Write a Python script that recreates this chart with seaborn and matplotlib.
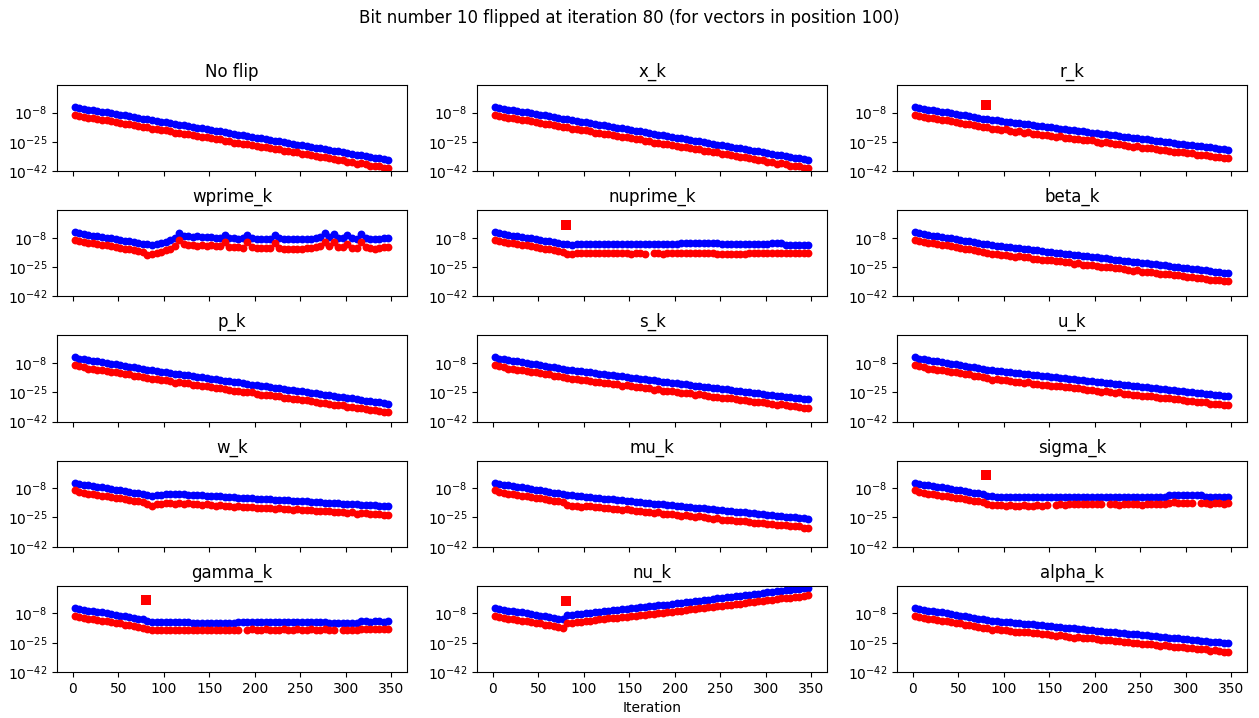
import numpy as np
import matplotlib
matplotlib.use("Agg")
import matplotlib.pyplot as plt
from matplotlib.ticker import NullLocator
import seaborn as sns

# ---------------- data (log10 of the plotted values) ----------------
ITERATIONS = list(range(2, 351, 5))          # 2, 7, ..., 347
FLIP_ITERATION = 80
SUPTITLE = "Bit number 10 flipped at iteration 80 (for vectors in position 100)"
PANEL_NAMES = ["No flip", "x_k", "r_k",
               "wprime_k", "nuprime_k", "beta_k",
               "p_k", "s_k", "u_k",
               "w_k", "mu_k", "sigma_k",
               "gamma_k", "nu_k", "alpha_k"]
Y_TICK_EXPONENTS = [-42, -25, -8]
nan = float("nan")

# iterations 2..77 (identical for every run, before the flip)
PRE_BLUE = [-4.7, -5.4, -5.9, -6.3, -6.7, -7.0, -7.4, -7.9, -8.3, -8.8, -9.2, -9.7, -10.1, -10.6, -11.0, -11.5]
PRE_RED = [-9.2, -10.0, -10.6, -11.2, -11.3, -11.8, -12.3, -12.4, -13.0, -13.4, -13.8, -14.5, -14.6, -15.3, -15.6, -16.2]

# iterations 82..347
NOFLIP_BLUE = [-11.9, -12.3, -12.8, -13.2, -13.7, -14.1, -14.6, -15.0, -15.5, -15.9,
               -16.3, -16.8, -17.2, -17.7, -18.1, -18.6, -19.0, -19.5, -19.9, -20.4,
               -20.8, -21.2, -21.7, -22.1, -22.6, -23.0, -23.5, -23.9, -24.4, -24.8,
               -25.2, -25.7, -26.1, -26.6, -27.0, -27.5, -27.9, -28.4, -28.8, -29.3,
               -29.7, -30.1, -30.6, -31.0, -31.5, -31.9, -32.4, -32.8, -33.3, -33.7,
               -34.2, -34.6, -35.0, -35.5]
NOFLIP_RED = [-16.5, -17.4, -17.5, -18.2, -18.2, -18.9, -19.8, -19.6, -20.4, -20.4,
              -21.3, -21.5, -22.3, -22.3, -22.9, -23.6, -23.5, -24.4, -24.6, -25.5,
              -25.4, -26.2, -26.5, -26.6, -27.5, -28.1, -28.1, -28.6, -29.4, -29.3,
              -30.1, -30.5, -31.2, -31.2, -32.0, -32.2, -32.4, -33.3, -33.8, -33.9,
              -34.5, -35.2, -35.3, -35.6, -36.5, -36.7, -37.6, -37.4, -38.0, -38.8,
              -39.0, -39.2, -40.0, -40.2]
R_BLUE = [-11.9, -12.2, -12.6, -12.9, -13.2, -13.6, -13.9, -14.2, -14.6, -14.9,
          -15.3, -15.6, -15.9, -16.3, -16.6, -16.9, -17.3, -17.6, -17.9, -18.3,
          -18.6, -18.9, -19.3, -19.6, -19.9, -20.3, -20.6, -20.9, -21.3, -21.6,
          -22.0, -22.3, -22.6, -23.0, -23.3, -23.6, -24.0, -24.3, -24.6, -25.0,
          -25.3, -25.6, -26.0, -26.3, -26.6, -27.0, -27.3, -27.7, -28.0, -28.3,
          -28.7, -29.0, -29.3, -29.7]
R_RED = [-16.6, -17.4, -17.4, -18.0, -17.8, -18.5, -19.2, -18.9, -19.6, -19.5,
         -20.4, -20.4, -21.1, -21.0, -21.5, -22.0, -21.9, -22.6, -22.7, -23.5,
         -23.3, -24.0, -24.2, -24.2, -24.9, -25.5, -25.3, -25.7, -26.4, -26.2,
         -27.0, -27.2, -27.8, -27.7, -28.4, -28.4, -28.6, -29.3, -29.7, -29.7,
         -30.2, -30.8, -30.8, -31.0, -31.7, -31.5, -32.6, -32.4, -32.8, -33.5,
         -33.6, -33.7, -34.6, -34.6]
BETA_BLUE = [-11.9, -12.2, -12.5, -12.8, -13.2, -13.5, -13.8, -14.1, -14.4, -14.7,
             -15.0, -15.3, -15.7, -16.0, -16.3, -16.6, -16.9, -17.2, -17.5, -17.9,
             -18.2, -18.5, -18.8, -19.1, -19.4, -19.7, -20.0, -20.4, -20.7, -21.0,
             -21.3, -21.6, -21.9, -22.2, -22.6, -22.9, -23.2, -23.5, -23.8, -24.1,
             -24.4, -24.7, -25.1, -25.4, -25.7, -26.0, -26.3, -26.6, -26.9, -27.3,
             -27.6, -27.9, -28.2, -28.5]
BETA_RED = [-16.6, -17.4, -17.3, -17.9, -17.8, -18.4, -19.1, -18.8, -19.4, -19.3,
            -20.1, -20.1, -20.9, -20.7, -21.2, -21.7, -21.5, -22.2, -22.3, -23.1,
            -22.9, -23.6, -23.7, -23.7, -24.4, -24.9, -24.7, -25.2, -25.8, -25.6,
            -26.3, -26.5, -27.1, -26.9, -27.7, -27.7, -27.8, -28.5, -28.9, -28.8,
            -29.3, -29.9, -29.9, -30.1, -30.8, -30.9, -31.6, -31.3, -31.7, -32.5,
            -32.5, -32.6, -33.3, -33.3]
P_BLUE = [-11.9, -12.3, -12.6, -13.0, -13.4, -13.8, -14.1, -14.5, -14.9, -15.2,
          -15.6, -16.0, -16.4, -16.7, -17.1, -17.5, -17.9, -18.2, -18.6, -19.0,
          -19.3, -19.7, -20.1, -20.5, -20.8, -21.2, -21.6, -21.9, -22.3, -22.7,
          -23.1, -23.4, -23.8, -24.2, -24.5, -24.9, -25.3, -25.7, -26.0, -26.4,
          -26.8, -27.2, -27.5, -27.9, -28.3, -28.6, -29.0, -29.4, -29.8, -30.1,
          -30.5, -30.9, -31.2, -31.6]
P_RED = [-16.6, -17.5, -17.4, -18.1, -18.0, -18.7, -19.4, -19.2, -19.9, -19.8,
         -20.7, -20.8, -21.6, -21.4, -22.0, -22.6, -22.5, -23.2, -23.4, -24.2,
         -24.0, -24.8, -25.0, -25.1, -25.8, -26.4, -26.3, -26.7, -27.4, -27.3,
         -28.1, -28.3, -29.0, -28.9, -29.6, -29.7, -29.9, -30.7, -31.1, -31.1,
         -31.7, -32.4, -32.3, -32.6, -33.4, -33.5, -34.3, -34.1, -34.6, -35.3,
         -35.4, -35.6, -36.3, -36.4]
S_BLUE = [-11.9, -12.2, -12.6, -12.9, -13.2, -13.5, -13.9, -14.2, -14.5, -14.9,
          -15.2, -15.5, -15.8, -16.2, -16.5, -16.8, -17.1, -17.5, -17.8, -18.1,
          -18.4, -18.8, -19.1, -19.4, -19.8, -20.1, -20.4, -20.7, -21.1, -21.4,
          -21.7, -22.0, -22.4, -22.7, -23.0, -23.3, -23.7, -24.0, -24.3, -24.7,
          -25.0, -25.3, -25.6, -26.0, -26.3, -26.6, -26.9, -27.3, -27.6, -27.9,
          -28.2, -28.6, -28.9, -29.2]
S_RED = [-16.7, -17.5, -17.5, -18.1, -17.9, -18.5, -19.3, -19.0, -19.6, -19.6,
         -20.4, -20.4, -21.1, -21.0, -21.5, -22.0, -21.8, -22.6, -22.7, -23.4,
         -23.2, -24.0, -24.1, -24.1, -24.9, -25.4, -25.2, -25.6, -26.3, -26.1,
         -26.8, -27.0, -27.7, -27.5, -28.2, -28.2, -28.4, -29.1, -29.5, -29.5,
         -30.0, -30.6, -30.5, -30.8, -31.5, -31.6, -32.3, -32.1, -32.5, -33.2,
         -33.2, -33.4, -34.1, -34.1]
U_BLUE = [-11.9, -12.2, -12.5, -12.8, -13.1, -13.4, -13.6, -13.9, -14.2, -14.5,
          -14.8, -15.1, -15.4, -15.7, -16.0, -16.3, -16.6, -16.9, -17.1, -17.4,
          -17.7, -18.0, -18.3, -18.6, -18.9, -19.2, -19.5, -19.8, -20.1, -20.3,
          -20.6, -20.9, -21.2, -21.5, -21.8, -22.1, -22.4, -22.7, -23.0, -23.3,
          -23.5, -23.8, -24.1, -24.4, -24.7, -25.0, -25.3, -25.6, -25.9, -26.2,
          -26.5, -26.7, -27.0, -27.3]
U_RED = [-16.8, -17.6, -17.5, -18.1, -17.9, -18.5, -19.1, -18.8, -19.4, -19.3,
         -20.1, -20.1, -20.8, -20.6, -21.1, -21.6, -21.4, -22.1, -22.1, -22.8,
         -22.6, -23.3, -23.4, -23.4, -24.1, -24.6, -24.4, -24.8, -25.4, -25.1,
         -25.8, -26.0, -26.6, -26.4, -27.1, -27.1, -27.2, -27.9, -28.3, -28.2,
         -28.6, -29.2, -29.1, -29.3, -30.0, -30.1, -30.8, -30.5, -30.9, -31.6,
         -31.6, -31.6, -32.3, -32.3]
MU_BLUE = [-11.9, -12.2, -12.4, -12.7, -12.9, -13.2, -13.5, -13.7, -14.0, -14.3,
           -14.5, -14.8, -15.0, -15.3, -15.6, -15.8, -16.1, -16.3, -16.6, -16.9,
           -17.1, -17.4, -17.7, -17.9, -18.2, -18.4, -18.7, -19.0, -19.2, -19.5,
           -19.7, -20.0, -20.3, -20.5, -20.8, -21.1, -21.3, -21.6, -21.8, -22.1,
           -22.4, -22.6, -22.9, -23.1, -23.4, -23.7, -23.9, -24.2, -24.5, -24.7,
           -25.0, -25.2, -25.5, -25.8]
MU_RED = [-17.7, -18.5, -18.3, -18.7, -18.2, -18.4, -19.1, -18.7, -19.3, -19.2,
          -19.9, -19.9, -20.5, -20.3, -20.8, -21.2, -21.0, -21.6, -21.7, -22.4,
          -22.1, -22.8, -22.9, -22.8, -23.5, -23.9, -23.7, -24.1, -24.6, -24.4,
          -25.0, -25.2, -25.8, -25.5, -26.2, -26.2, -26.2, -26.9, -27.2, -27.1,
          -27.6, -28.1, -28.0, -28.1, -28.8, -28.9, -29.5, -29.2, -29.6, -30.2,
          -30.2, -30.2, -30.9, -30.9]
ALPHA_BLUE = [-11.9, -12.2, -12.4, -12.7, -12.9, -13.2, -13.4, -13.7, -13.9, -14.2,
              -14.4, -14.7, -14.9, -15.2, -15.4, -15.7, -15.9, -16.2, -16.5, -16.7,
              -17.0, -17.2, -17.5, -17.7, -18.0, -18.2, -18.5, -18.7, -19.0, -19.2,
              -19.5, -19.7, -20.0, -20.2, -20.5, -20.8, -21.0, -21.3, -21.5, -21.8,
              -22.0, -22.3, -22.5, -22.8, -23.0, -23.3, -23.5, -23.8, -24.0, -24.3,
              -24.5, -24.8, -25.0, -25.3]
ALPHA_RED = [-16.7, -17.5, -17.3, -17.9, -17.6, -18.2, -18.8, -18.5, -19.0, -18.9,
             -19.6, -19.6, -20.2, -20.0, -20.4, -20.9, -20.6, -21.3, -21.4, -22.0,
             -21.8, -22.4, -22.5, -22.4, -23.1, -23.5, -23.3, -23.6, -24.2, -23.9,
             -24.6, -24.7, -25.3, -25.0, -25.7, -25.7, -25.7, -26.4, -26.7, -26.6,
             -27.0, -27.6, -27.4, -27.6, -28.2, -28.3, -28.9, -28.6, -28.9, -29.6,
             -29.5, -29.6, -30.2, -30.2]
W_BLUE = [-12.2, -12.4, -12.2, -11.9, -11.6, -11.5, -11.4, -11.5, -11.6, -11.8,
          -11.9, -12.1, -12.2, -12.4, -12.5, -12.7, -12.8, -13.0, -13.1, -13.3,
          -13.4, -13.6, -13.7, -13.9, -14.0, -14.2, -14.3, -14.5, -14.6, -14.8,
          -14.9, -15.1, -15.2, -15.4, -15.6, -15.7, -15.9, -16.0, -16.2, -16.3,
          -16.5, -16.6, -16.8, -16.9, -17.1, -17.2, -17.4, -17.5, -17.7, -17.8,
          -18.0, -18.1, -18.3, -18.5]
W_RED = [-17.4, -18.1, -17.4, -17.4, -16.6, -16.8, -17.1, -16.6, -17.0, -16.8,
         -17.3, -17.2, -17.7, -17.4, -17.7, -18.1, -17.7, -18.3, -18.2, -18.8,
         -18.4, -19.0, -18.9, -18.8, -19.2, -19.6, -19.2, -19.5, -19.9, -19.6,
         -20.1, -20.2, -20.5, -20.2, -20.8, -20.6, -20.6, -21.1, -21.4, -21.1,
         -21.5, -21.9, -21.6, -21.6, -22.2, -22.1, -22.7, -22.2, -22.5, -23.0,
         -22.9, -22.8, -23.4, -23.3]
SIGMA_BLUE = [-12.3, -12.8, -12.9, -13.0, -12.9, -12.9, -13.0, -12.9, -12.9, -13.0,
              -12.9, -12.9, -13.0, -12.9, -12.9, -13.0, -12.9, -12.9, -13.0, -12.9,
              -12.9, -13.0, -12.9, -12.9, -13.0, -12.9, -12.9, -13.0, -12.9, -12.9,
              -13.0, -12.9, -12.9, -13.0, -12.9, -12.9, -13.0, -12.9, -12.9, -13.0,
              -11.9, -11.9, -12.0, -11.9, -11.9, -12.0, -11.9, -11.9, -12.9, -12.9,
              -13.0, -12.9, -12.9, -13.0]
SIGMA_RED = [-17.0, -17.7, -17.6, -17.9, -18.1, -18.0, -18.2, -18.1, -18.0, -18.2,
             -18.1, -17.9, -18.1, -18.0, nan, -17.5, -17.3, -17.5, -17.4, -17.2,
             -17.4, -17.3, -17.1, -17.4, -17.3, -17.2, nan, -17.4, -17.3, -17.5,
             -17.4, -17.2, -17.4, -17.3, -17.5, -17.3, -17.4, -17.2, -17.4, -17.3,
             -16.4, -16.2, -16.4, -16.3, -16.5, -16.4, nan, -16.6, -16.8, -16.9,
             -16.7, -16.8, -16.9, -16.7]
GAMMA_BLUE = [-12.3, -12.8, -12.9, -12.9, -13.0, -12.9, -12.9, -13.0, -12.9, -12.9,
              -13.4, -13.5, -13.4, -13.4, -13.5, -13.4, -13.4, -13.5, -13.4, -13.4,
              -12.9, -12.9, -13.0, -12.9, -12.9, -13.0, -12.9, -12.9, -13.0, -12.9,
              -12.9, -13.0, -12.9, -12.9, -13.0, -12.9, -12.9, -13.0, -12.9, -12.9,
              -13.4, -13.5, -13.4, -13.4, -13.5, -13.4, -13.4, -12.6, -12.6, -12.7,
              -12.6, -12.6, -12.7, -12.6]
GAMMA_RED = [-17.0, -17.8, -17.6, -17.8, -17.6, -17.5, -17.7, -17.6, -17.5, -17.7,
             -17.6, -17.7, -17.5, -17.6, -17.7, -17.5, -17.6, -17.7, -17.5, -17.6,
             -17.4, nan, -17.5, -17.3, -17.4, -17.5, -17.3, -17.4, -17.5, -17.4,
             -17.3, -17.5, -17.4, -17.3, -17.5, -17.4, -17.3, -17.5, -17.4, -17.3,
             -17.5, -17.6, nan, -17.5, -17.7, -17.6, -17.5, -17.2, -17.1, -17.3,
             -17.2, -17.1, -17.3, -17.2]
NUPRIME_BLUE = [-11.8, -12.1, -11.6, -11.5, -11.5, -11.5, -11.5, -11.5, -11.5, -11.5,
                -11.5, -11.5, -11.5, -11.9, -11.9, -11.9, -11.9, -11.9, -11.9, -11.9,
                -11.9, -11.9, -11.9, -11.9, -11.9, -11.0, -11.0, -11.0, -11.0, -11.0,
                -11.0, -11.0, -11.0, -11.0, -11.9, -11.9, -11.9, -11.9, -11.9, -11.9,
                -11.9, -11.9, -11.9, -11.9, -11.9, -11.0, -11.0, -11.0, -12.1, -12.1,
                -12.1, -12.1, -12.1, -12.1]
NUPRIME_RED = [-17.6, -17.4, -17.0, -16.8, -16.9, -16.7, -16.9, -16.8, -16.8, -17.0,
               -16.9, -16.8, -17.0, -17.1, -17.2, -17.0, -17.1, -17.2, nan, -17.1,
               -17.0, -17.2, -17.1, -16.8, -16.7, -16.6, -16.8, -16.7, -16.6, -16.8,
               -16.9, -17.0, -17.1, -17.3, -17.2, -17.4, -17.6, -17.5, -17.3, -17.2,
               -17.0, -17.1, -17.0, -16.9, -16.8, -16.6, -16.7, -16.9, -17.0, -17.1,
               -17.0, -17.1, -17.0, -17.1]
NU_BLUE = [-9.0, -8.7, -8.5, -8.2, -7.9, -7.6, -7.3, -7.0, -6.8, -6.5,
           -6.2, -5.9, -5.6, -5.3, -5.0, -4.8, -4.5, -4.2, -3.9, -3.6,
           -3.3, -3.0, -2.8, -2.5, -2.2, -1.9, -1.6, -1.2, -0.9, -0.6,
           -0.3, 0.0, 0.4, 0.7, 1.0, 1.3, 1.6, 1.9, 2.3, 2.6,
           2.9, 3.2, 3.5, 3.8, 4.2, 4.5, 4.8, 5.1, 5.4, 5.7,
           6.1, 6.4, 6.7, 7.0]
NU_RED = [-13.8, -13.3, -13.2, -12.9, -12.4, -12.1, -12.0, -11.5, -11.4, -10.9,
          -10.9, -10.4, -10.3, -9.8, -9.5, -9.4, -8.9, -8.8, -8.3, -8.2,
          -7.7, -7.6, -7.2, -6.9, -6.6, -6.4, -5.9, -5.6, -5.4, -4.9,
          -4.8, -4.4, -4.2, -3.9, -3.4, -3.3, -2.9, -2.5, -2.3, -1.8,
          -1.6, -1.3, -0.9, -0.7, -0.3, 0.0, 0.2, 0.7, 0.9, 1.2,
          1.6, 1.8, 2.2, 2.5]
WPRIME_BLUE = [-11.8, -12.1, -11.8, -11.2, -10.5, -9.5, -8.4, -5.5, -6.8, -7.0,
               -7.3, -7.2, -7.6, -7.5, -7.8, -7.9, -8.0, -6.6, -8.2, -8.3,
               -8.5, -8.4, -6.1, -8.3, -8.5, -8.6, -8.5, -8.6, -6.3, -8.4,
               -8.6, -8.7, -8.6, -8.7, -8.6, -8.7, -8.6, -8.3, -7.5, -5.4,
               -7.8, -5.6, -8.2, -8.3, -6.5, -8.4, -8.5, -5.6, -8.0, -8.6,
               -8.8, -8.7, -8.2, -7.9]
WPRIME_RED = [-17.8, -17.6, -17.0, -16.3, -15.2, -14.3, -12.5, -9.2, -11.8, -12.3,
              -12.0, -12.5, -12.2, -12.6, -12.4, -12.8, -12.6, -10.2, -13.4, -13.6,
              -13.5, -13.8, -10.6, -13.5, -13.9, -13.8, -14.1, -13.9, -11.0, -13.9,
              -14.3, -14.4, -14.6, -14.4, -14.3, -14.1, -13.8, -13.4, -12.6, -10.2,
              -12.5, -10.6, -13.3, -13.6, -11.5, -13.9, -14.1, -10.6, -13.5, -14.2,
              -14.4, -14.2, -13.6, -13.1]

# value of the flipped entry, drawn as a red square at the flip iteration
FLIP_NAMES = ["r_k", "nuprime_k", "sigma_k", "gamma_k", "nu_k"]
FLIP_VALUES = [-3.8, -0.4, -0.6, -0.4, -0.5]

POST_BLUE = [NOFLIP_BLUE, NOFLIP_BLUE, R_BLUE, WPRIME_BLUE, NUPRIME_BLUE, BETA_BLUE,
             P_BLUE, S_BLUE, U_BLUE, W_BLUE, MU_BLUE, SIGMA_BLUE,
             GAMMA_BLUE, NU_BLUE, ALPHA_BLUE]
POST_RED = [NOFLIP_RED, NOFLIP_RED, R_RED, WPRIME_RED, NUPRIME_RED, BETA_RED,
            P_RED, S_RED, U_RED, W_RED, MU_RED, SIGMA_RED,
            GAMMA_RED, NU_RED, ALPHA_RED]

# ---------------- figure ----------------
fig, axes = plt.subplots(5, 3, figsize=(12.59, 7.18), dpi=100, sharex=True)
fig.subplots_adjust(left=0.0453, right=0.9905, top=0.8816, bottom=0.0641,
                    wspace=0.2, hspace=0.455)

for ax, name, pb, pr in zip(axes.flat, PANEL_NAMES, POST_BLUE, POST_RED):
    blue = np.power(10.0, np.array(PRE_BLUE + pb, dtype=float))
    red = np.power(10.0, np.array(PRE_RED + pr, dtype=float))
    ax.set_yscale("log")
    sns.scatterplot(x=ITERATIONS, y=blue, color="blue", s=32, linewidth=0, ax=ax)
    sns.scatterplot(x=ITERATIONS, y=red, color="red", s=32, linewidth=0, ax=ax)
    if name in FLIP_NAMES:
        v = FLIP_VALUES[FLIP_NAMES.index(name)]
        sns.scatterplot(x=[FLIP_ITERATION], y=[10.0 ** v], color="red", marker="s",
                        s=48, linewidth=0, ax=ax)
    ax.set_ylim(1e-42, 1e8)
    ax.set_yticks([10.0 ** e for e in Y_TICK_EXPONENTS])
    ax.set_yticklabels([r"$10^{%d}$" % e for e in Y_TICK_EXPONENTS])
    ax.yaxis.set_minor_locator(NullLocator())
    ax.set_xlim(-17.5, 367.5)
    ax.set_xticks([0, 50, 100, 150, 200, 250, 300, 350])
    ax.set_title(name, fontsize=12)
    ax.set_xlabel("")
    ax.set_ylabel("")

axes[4, 1].set_xlabel("Iteration")
fig.suptitle(SUPTITLE, fontsize=12, y=0.988)
fig.savefig("out.png", dpi=100)
